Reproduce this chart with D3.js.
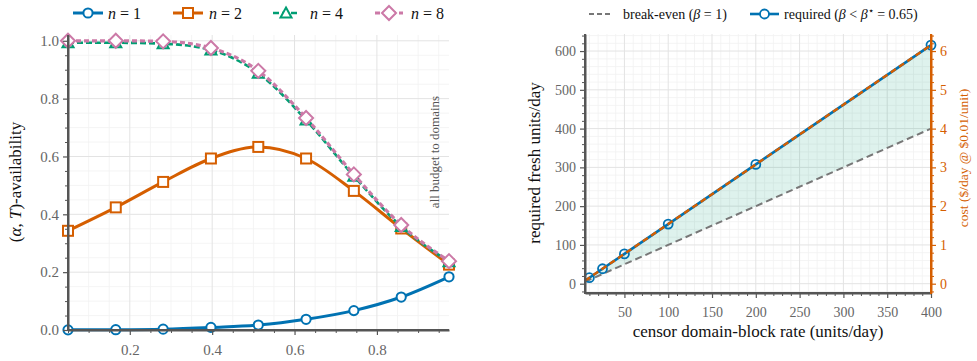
<!DOCTYPE html>
<html><head><meta charset="utf-8">
<script src="https://cdn.jsdelivr.net/npm/d3@7"></script>
<style>
body{margin:0;background:#fff}
svg{display:block}
text{font-family:"Liberation Serif","DejaVu Serif",serif}
</style>
</head><body>
<svg id="c" width="977" height="361" font-family="Liberation Serif, DejaVu Serif, serif"></svg>
<script>
// ---------- data: left panel ----------
const fracs   = [0.05, 0.166, 0.281, 0.397, 0.512, 0.628, 0.744, 0.859, 0.975];
const availN1 = [0.0005, 0.001, 0.003, 0.009, 0.017, 0.037, 0.067, 0.114, 0.184];
const availN2 = [0.343, 0.424, 0.512, 0.593, 0.633, 0.593, 0.481, 0.351, 0.226];
const availN4 = [0.993, 0.993, 0.99, 0.968, 0.888, 0.726, 0.532, 0.358, 0.236];
const availN8 = [1.0, 1.0, 0.998, 0.975, 0.896, 0.733, 0.538, 0.363, 0.238];
const leftXTicks = [0.2, 0.4, 0.6, 0.8];
const leftYTicks = [0, 0.2, 0.4, 0.6, 0.8, 1.0];
const seriesLabels = ["1", "2", "4", "8"];

// ---------- data: right panel ----------
const lineRates    = [5, 10, 25, 50, 100, 200, 400];
const breakEven    = [5, 10, 25, 50, 100, 200, 400];
const requiredLine = [7.7, 15.4, 38.5, 76.9, 153.8, 307.7, 615.4];
const markerRates  = [10, 25, 50, 100, 200, 400];
const requiredPts  = [15.4, 38.5, 76.9, 153.8, 307.7, 615.4];
const costLine     = [0.077, 0.154, 0.385, 0.769, 1.538, 3.077, 6.154];
const rightXTicks  = [50, 100, 150, 200, 250, 300, 350, 400];
const rightYTicks  = [0, 100, 200, 300, 400, 500, 600];
const costTicks    = [0, 1, 2, 3, 4, 5, 6];

const C = {blue:"#0072B2", orange:"#D55E00", green:"#009E73", pink:"#CC79A7",
           gray:"#777777", spine:"#555555", tick:"#666666", gMaj:"#e3e3e3", gMin:"#f1f1f1"};
const SERIF = "Liberation Serif, DejaVu Serif, serif";

const svg = d3.select("#c");

function rng(a, b, s){ const out=[]; for(let v=a; v<=b+1e-9; v+=s) out.push(+v.toFixed(6)); return out; }
function notIn(arr, majors){ return arr.filter(v => !majors.some(m => Math.abs(m-v)<1e-6)); }

function grid(g, x, y, xMaj, xMin, yMaj, yMin){
  const [x0,x1] = x.range(), [y0,y1] = y.range();
  g.selectAll(null).data(xMin).enter().append("line")
    .attr("x1",d=>x(d)).attr("x2",d=>x(d)).attr("y1",y0).attr("y2",y1)
    .attr("stroke",C.gMin).attr("stroke-width",0.8);
  g.selectAll(null).data(yMin).enter().append("line")
    .attr("y1",d=>y(d)).attr("y2",d=>y(d)).attr("x1",x0).attr("x2",x1)
    .attr("stroke",C.gMin).attr("stroke-width",0.8);
  g.selectAll(null).data(xMaj).enter().append("line")
    .attr("x1",d=>x(d)).attr("x2",d=>x(d)).attr("y1",y0).attr("y2",y1)
    .attr("stroke",C.gMaj).attr("stroke-width",1);
  g.selectAll(null).data(yMaj).enter().append("line")
    .attr("y1",d=>y(d)).attr("y2",d=>y(d)).attr("x1",x0).attr("x2",x1)
    .attr("stroke",C.gMaj).attr("stroke-width",1);
}

function styleAxis(sel, color, labColor, fs){
  sel.attr("font-family",SERIF).attr("font-size",fs);
  sel.select(".domain").attr("stroke",color).attr("stroke-width",2);
  sel.selectAll(".tick line").attr("stroke",color).attr("stroke-width",1.2);
  sel.selectAll(".tick text").attr("fill",labColor).attr("font-family",SERIF)
     .style("font-size",fs+"px").style("font-family",SERIF);
}

function axisSet(g, axisFn, scale, majors, minors, fmt, color, labColor, fs, tr){
  const a1 = g.append("g").attr("transform",tr)
    .call(axisFn(scale).tickValues(minors).tickSize(3).tickFormat(""));
  a1.select(".domain").remove();
  a1.selectAll(".tick line").attr("stroke",color).attr("stroke-width",1);
  const a2 = g.append("g").attr("transform",tr)
    .call(axisFn(scale).tickValues(majors).tickSize(5).tickSizeOuter(0).tickPadding(4).tickFormat(fmt));
  styleAxis(a2, color, labColor, fs);
  return a2;
}

// ================= LEFT PANEL =================
const xL = d3.scaleLinear().domain([0.05, 0.975]).range([68, 449]);
const yL = d3.scaleLinear().domain([0, 1.02]).range([330, 35]);
const gL = svg.append("g");
grid(gL, xL, yL, leftXTicks, notIn(rng(0.05,0.95,0.05), leftXTicks),
     leftYTicks, notIn(rng(0.05,1.0,0.05), leftYTicks));

// annotation
gL.append("text").attr("transform","translate(439,152) rotate(-90)")
  .attr("text-anchor","middle").attr("fill","#555").style("font-size","13px")
  .text("all budget to domains");

const lineL = d3.line().x((d,i)=>xL(fracs[i])).y(d=>yL(d)).curve(d3.curveMonotoneX);
const series = [
  {vals:availN1, color:C.blue,   dash:null,  w:3,   marker:"circle"},
  {vals:availN2, color:C.orange, dash:null,  w:3,   marker:"square"},
  {vals:availN4, color:C.green,  dash:"6,3", w:2.6, marker:"triangle"},
  {vals:availN8, color:C.pink,   dash:"5,3", w:3.2, marker:"diamond"}
];
function marker(g, type, cx, cy, color){
  if(type==="circle") return g.append("circle").attr("cx",cx).attr("cy",cy).attr("r",4.6)
      .attr("fill","#fff").attr("stroke",color).attr("stroke-width",2);
  if(type==="square") return g.append("rect").attr("x",cx-5).attr("y",cy-5).attr("width",10).attr("height",10)
      .attr("fill","#fff").attr("stroke",color).attr("stroke-width",2);
  if(type==="triangle") return g.append("path").attr("d",`M${cx},${cy-5.5}L${cx+5.5},${cy+4.5}L${cx-5.5},${cy+4.5}Z`)
      .attr("fill","#fff").attr("stroke",color).attr("stroke-width",2);
  if(type==="diamond") return g.append("path").attr("d",`M${cx},${cy-7}L${cx+7},${cy}L${cx},${cy+7}L${cx-7},${cy}Z`)
      .attr("fill","#fff").attr("stroke",color).attr("stroke-width",2);
}
series.forEach(s=>{
  gL.append("path").attr("d",lineL(s.vals)).attr("fill","none").attr("stroke",s.color)
    .attr("stroke-width",s.w).attr("stroke-dasharray",s.dash);
  s.vals.forEach((v,i)=>marker(gL, s.marker, xL(fracs[i]), yL(v), s.color));
});

// axes
axisSet(gL, d3.axisBottom, xL, leftXTicks, notIn(rng(0.05,0.95,0.05), leftXTicks),
        d3.format(".1f"), C.spine, C.tick, 15, "translate(0,330)")
  .selectAll(".tick text").attr("dy","1.05em");
axisSet(gL, d3.axisLeft, yL, leftYTicks, notIn(rng(0.05,1.0,0.05), leftYTicks),
        d3.format(".1f"), C.spine, C.tick, 15, "translate(68,0)");
gL.append("line").attr("x1",68).attr("x2",68).attr("y1",35).attr("y2",331).attr("stroke",C.spine).attr("stroke-width",2);
gL.append("line").attr("x1",67).attr("x2",449).attr("y1",330).attr("y2",330).attr("stroke",C.spine).attr("stroke-width",2);

// y label
const ylabL = gL.append("text").attr("transform","translate(21,182) rotate(-90)")
  .attr("text-anchor","middle").attr("fill","#111").style("font-size","17px");
ylabL.append("tspan").text("(");
ylabL.append("tspan").attr("font-style","italic").text("α");
ylabL.append("tspan").text(", ");
ylabL.append("tspan").attr("font-style","italic").text("T");
ylabL.append("tspan").text(")-availability");

// legend
const legPos = [{x0:73,x1:103,tx:108},{x0:173,x1:203,tx:209},{x0:273,x1:299,tx:310},{x0:375,x1:403,tx:411}];
series.forEach((s,i)=>{
  const p = legPos[i], ly = 13;
  svg.append("line").attr("x1",p.x0).attr("x2",p.x1).attr("y1",ly).attr("y2",ly)
    .attr("stroke",s.color).attr("stroke-width",s.w).attr("stroke-dasharray",s.dash);
  marker(svg, s.marker, (p.x0+p.x1)/2, ly, s.color);
  const t = svg.append("text").attr("x",p.tx).attr("y",ly+5.5).attr("fill","#111").style("font-size","16px");
  t.append("tspan").attr("font-style","italic").text("n");
  t.append("tspan").text(" = " + seriesLabels[i]);
});

// ================= RIGHT PANEL =================
const xR = d3.scaleLinear().domain([5, 400]).range([585, 931]);
const yR = d3.scaleLinear().domain([-24, 644]).range([293, 34]);
const yC = d3.scaleLinear().domain([-0.24, 6.44]).range([293, 34]);
const gR = svg.append("g");
grid(gR, xR, yR, rightXTicks, notIn(rng(10,400,10), rightXTicks),
     rightYTicks, notIn(rng(-20,640,20), rightYTicks));

const area = d3.area().x((d,i)=>xR(lineRates[i])).y0((d,i)=>yR(breakEven[i])).y1(d=>yR(d));
gR.append("path").attr("d",area(requiredLine)).attr("fill",C.green).attr("fill-opacity",0.13);

const lineR = d3.line().x((d,i)=>xR(lineRates[i])).y(d=>yR(d));
gR.append("path").attr("d",lineR(breakEven)).attr("fill","none").attr("stroke",C.gray)
  .attr("stroke-width",2).attr("stroke-dasharray","7,4");
gR.append("path").attr("d",lineR(requiredLine)).attr("fill","none").attr("stroke",C.blue).attr("stroke-width",2.6);
markerRates.forEach((r,i)=>{
  gR.append("circle").attr("cx",xR(r)).attr("cy",yR(requiredPts[i])).attr("r",4.5)
    .attr("fill","none").attr("stroke",C.blue).attr("stroke-width",1.8);
});
const lineCost = d3.line().x((d,i)=>xR(lineRates[i])).y(d=>yC(d));
gR.append("path").attr("d",lineCost(costLine)).attr("fill","none").attr("stroke",C.orange)
  .attr("stroke-width",2.4).attr("stroke-dasharray","6,4");

axisSet(gR, d3.axisBottom, xR, rightXTicks, notIn(rng(10,400,10), rightXTicks),
        d3.format("d"), C.spine, C.tick, 14, "translate(0,293)")
  .selectAll(".tick text").attr("dy","1.1em");
axisSet(gR, d3.axisLeft, yR, rightYTicks, notIn(rng(-20,640,20), rightYTicks),
        d3.format("d"), C.spine, C.tick, 14, "translate(585,0)");
axisSet(gR, d3.axisRight, yC, costTicks, notIn(rng(-0.2,6.4,0.2), costTicks),
        d3.format("d"), C.orange, C.orange, 14, "translate(931,0)");
gR.append("line").attr("x1",585).attr("x2",585).attr("y1",34).attr("y2",294).attr("stroke",C.spine).attr("stroke-width",2);
gR.append("line").attr("x1",584).attr("x2",931).attr("y1",293).attr("y2",293).attr("stroke",C.spine).attr("stroke-width",2);
gR.append("line").attr("x1",931).attr("x2",931).attr("y1",34).attr("y2",294).attr("stroke",C.orange).attr("stroke-width",2);

gR.append("text").attr("transform","translate(540,163) rotate(-90)").attr("text-anchor","middle")
  .attr("fill","#111").style("font-size","17px").text("required fresh units/day");
gR.append("text").attr("x",758).attr("y",337).attr("text-anchor","middle")
  .attr("fill","#111").style("font-size","17px").text("censor domain-block rate (units/day)");
gR.append("text").attr("transform","translate(968,158) rotate(-90)").attr("text-anchor","middle")
  .attr("fill",C.orange).style("font-size","13.5px").text("cost ($/day @ $0.01/unit)");

// legend right
svg.append("line").attr("x1",589).attr("x2",613).attr("y1",14).attr("y2",14)
  .attr("stroke",C.gray).attr("stroke-width",2).attr("stroke-dasharray","5,3");
const t1 = svg.append("text").attr("x",623).attr("y",19).attr("fill","#111").style("font-size","14px");
t1.append("tspan").text("break-even (");
t1.append("tspan").attr("font-style","italic").text("β");
t1.append("tspan").text(" = 1)");
svg.append("line").attr("x1",750).attr("x2",779).attr("y1",14).attr("y2",14)
  .attr("stroke",C.blue).attr("stroke-width",2.6);
svg.append("circle").attr("cx",764.5).attr("cy",14).attr("r",4.5).attr("fill","#fff")
  .attr("stroke",C.blue).attr("stroke-width",1.8);
const t2 = svg.append("text").attr("x",784).attr("y",19).attr("fill","#111").style("font-size","14px");
t2.append("tspan").text("required (");
t2.append("tspan").attr("font-style","italic").text("β");
t2.append("tspan").text(" < ");
t2.append("tspan").attr("font-style","italic").text("β");
t2.append("tspan").attr("dy","-5").style("font-size","10px").text("⋆");
t2.append("tspan").attr("dy","5").text(" = 0.65)");
</script>
</body></html>
